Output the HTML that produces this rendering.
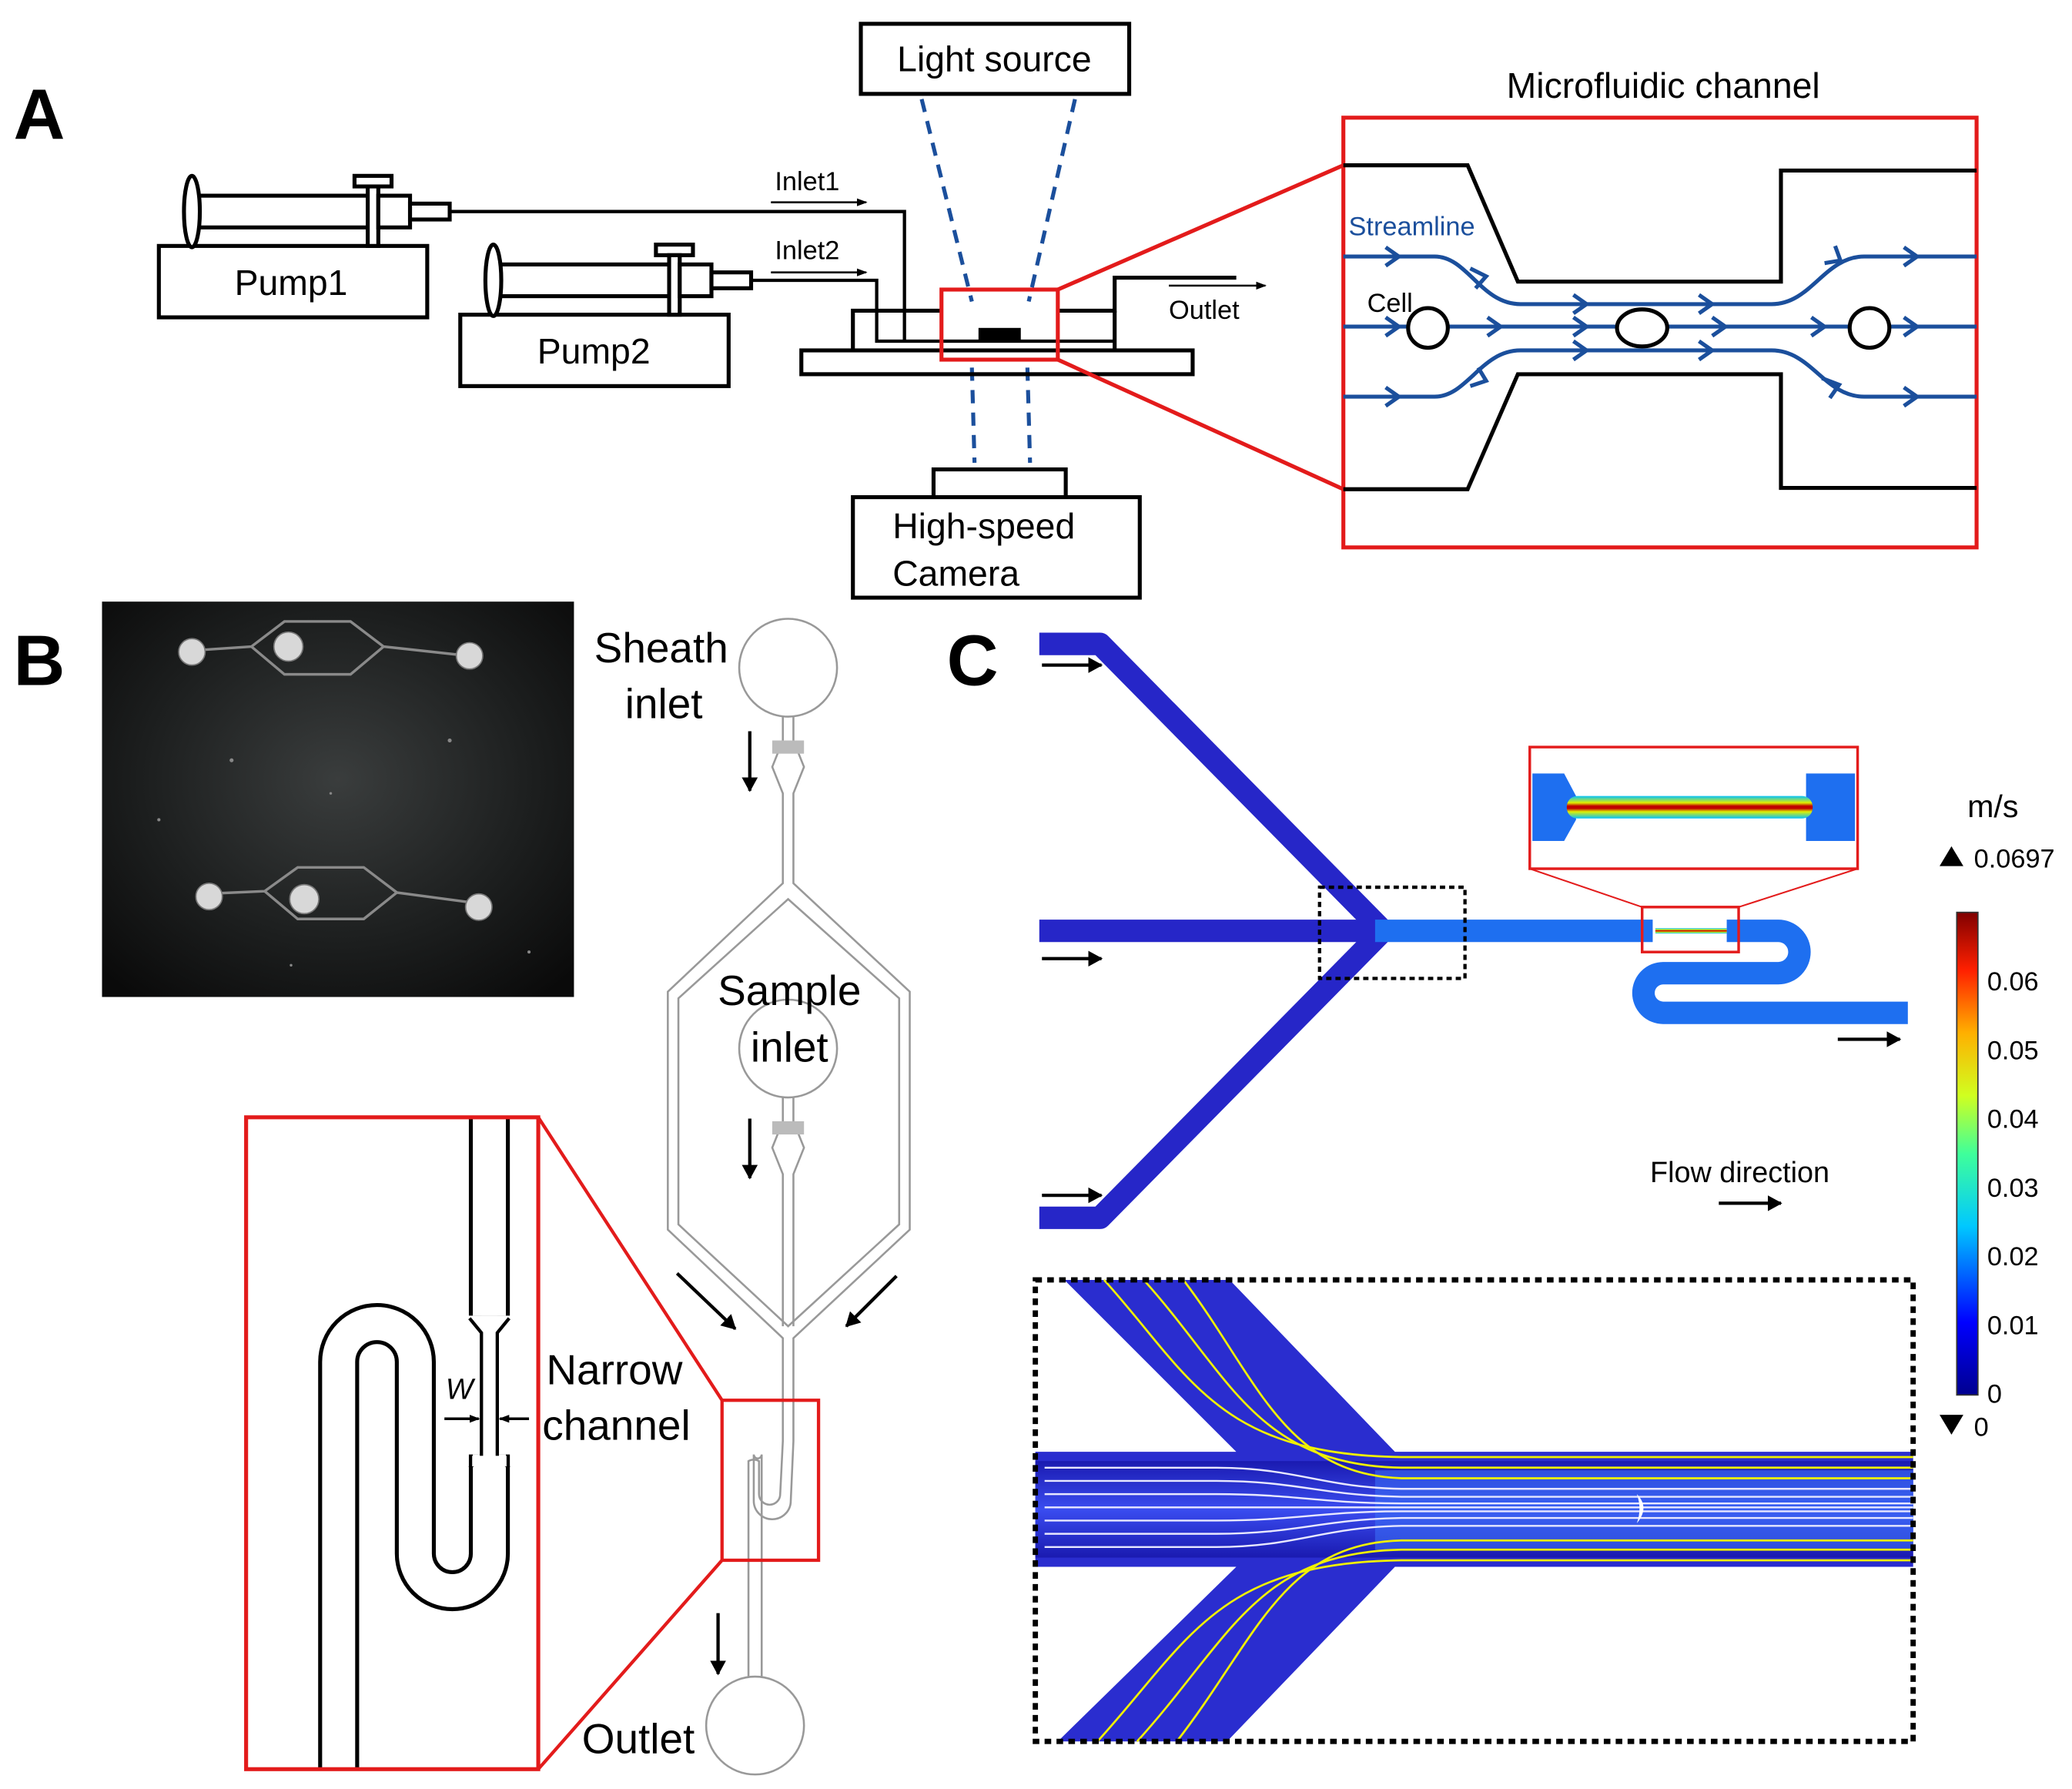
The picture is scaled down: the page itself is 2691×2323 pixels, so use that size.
<!DOCTYPE html>
<html><head><meta charset="utf-8"><style>
html,body{margin:0;padding:0;background:#fff;}
svg{display:block;}
text{font-family:"Liberation Sans",sans-serif;}
</style></head><body>
<svg width="2691" height="2323" viewBox="0 0 1567 1353" xmlns="http://www.w3.org/2000/svg">
<defs>
<marker id="ah" markerWidth="8" markerHeight="8" refX="7" refY="4" orient="auto" markerUnits="userSpaceOnUse"><path d="M0,1 L8,4 L0,7 z" fill="#000"/></marker>
<marker id="ahb" markerWidth="12" markerHeight="12" refX="10" refY="6" orient="auto" markerUnits="userSpaceOnUse"><path d="M0,0 L11,6 L0,12 z" fill="#000"/></marker>
<linearGradient id="cb" x1="0" y1="1" x2="0" y2="0">
<stop offset="0" stop-color="#00008f"/><stop offset="0.15" stop-color="#0000ff"/><stop offset="0.35" stop-color="#00c8ff"/><stop offset="0.5" stop-color="#3fff9a"/><stop offset="0.62" stop-color="#d0ff20"/><stop offset="0.75" stop-color="#ffb000"/><stop offset="0.88" stop-color="#ff2000"/><stop offset="1" stop-color="#800000"/></linearGradient>
<radialGradient id="ph" cx="0.5" cy="0.45" r="0.7"><stop offset="0" stop-color="#3a3d3d"/><stop offset="0.6" stop-color="#1c1e1e"/><stop offset="1" stop-color="#0a0a0a"/></radialGradient>
<linearGradient id="ch" x1="0" y1="0" x2="0" y2="1"><stop offset="0" stop-color="#1a1ab0"/><stop offset="0.5" stop-color="#3a4cf0"/><stop offset="1" stop-color="#1a1ab0"/></linearGradient>
<linearGradient id="red" x1="0" y1="0" x2="0" y2="1"><stop offset="0" stop-color="#00c0ff"/><stop offset="0.3" stop-color="#e0f000"/><stop offset="0.45" stop-color="#c00000"/><stop offset="0.55" stop-color="#c00000"/><stop offset="0.7" stop-color="#e0f000"/><stop offset="1" stop-color="#00c0ff"/></linearGradient>
</defs>

<text x="10" y="105" font-size="54" font-weight="bold">A</text>
<rect x="651" y="18" width="203" height="53" fill="none" stroke="#000" stroke-width="3"/>
<text x="752" y="54" font-size="27" text-anchor="middle">Light source</text>
<g stroke="#1b4f9c" stroke-width="3" stroke-dasharray="10,7">
<line x1="697" y1="75" x2="735" y2="228"/><line x1="813" y1="75" x2="778" y2="228"/>
<line x1="735" y1="278" x2="737" y2="350"/><line x1="777" y1="278" x2="779" y2="350"/>
</g>
<rect x="706" y="355" width="100" height="21" fill="#fff" stroke="#000" stroke-width="3"/>
<rect x="645" y="376" width="217" height="76" fill="#fff" stroke="#000" stroke-width="3"/>
<text x="675" y="407" font-size="27">High-speed</text>
<text x="675" y="443" font-size="27">Camera</text>
<rect x="606" y="265" width="296" height="18" fill="none" stroke="#000" stroke-width="3"/>
<polyline points="645,265 645,235 712,235" fill="none" stroke="#000" stroke-width="3"/>
<polyline points="800,235 843,235 843,210 935,210" fill="none" stroke="#000" stroke-width="3"/>
<line x1="843" y1="235" x2="843" y2="265" stroke="#000" stroke-width="3"/>
<polyline points="340,160 684,160 684,258" fill="none" stroke="#000" stroke-width="2.5"/>
<polyline points="568,212 663,212 663,258 843,258" fill="none" stroke="#000" stroke-width="2.5"/>
<rect x="740" y="248" width="32" height="10" fill="#000"/>
<rect x="712" y="219" width="88" height="53" fill="none" stroke="#e31b1b" stroke-width="3"/>
<line x1="800" y1="219" x2="1016" y2="125" stroke="#e31b1b" stroke-width="3"/>
<line x1="800" y1="272" x2="1016" y2="370" stroke="#e31b1b" stroke-width="3"/>
<text x="586" y="144" font-size="20">Inlet1</text>
<line x1="583" y1="153" x2="655" y2="153" stroke="#000" stroke-width="1.5" marker-end="url(#ah)"/>
<text x="586" y="196" font-size="20">Inlet2</text>
<line x1="583" y1="206" x2="655" y2="206" stroke="#000" stroke-width="1.5" marker-end="url(#ah)"/>
<text x="884" y="241" font-size="20">Outlet</text>
<line x1="884" y1="216" x2="957" y2="216" stroke="#000" stroke-width="1.5" marker-end="url(#ah)"/>
<g fill="#fff" stroke="#000" stroke-width="3">
<rect x="120" y="186" width="203" height="54"/>
<rect x="150" y="148" width="130" height="24"/>
<ellipse cx="145" cy="160" rx="6" ry="27"/>
<rect x="268" y="133" width="28" height="8"/>
<rect x="278" y="141" width="8" height="45"/>
<rect x="286" y="148" width="24" height="24"/>
<rect x="310" y="154" width="30" height="12"/>
</g>
<text x="220" y="223" font-size="27" text-anchor="middle">Pump1</text>
<g transform="translate(228,52)" fill="#fff" stroke="#000" stroke-width="3">
<rect x="120" y="186" width="203" height="54"/>
<rect x="150" y="148" width="130" height="24"/>
<ellipse cx="145" cy="160" rx="6" ry="27"/>
<rect x="268" y="133" width="28" height="8"/>
<rect x="278" y="141" width="8" height="45"/>
<rect x="286" y="148" width="24" height="24"/>
<rect x="310" y="154" width="30" height="12"/>
</g>
<text x="449" y="275" font-size="27" text-anchor="middle">Pump2</text>
<text x="1258" y="74" font-size="27" text-anchor="middle">Microfluidic channel</text>
<rect x="1016" y="89" width="479" height="325" fill="none" stroke="#e31b1b" stroke-width="3"/>
<polyline points="1016,125 1110,125 1148,213 1347,213 1347,129 1495,129" fill="none" stroke="#000" stroke-width="3"/>
<polyline points="1016,370 1110,370 1148,283 1347,283 1347,369 1495,369" fill="none" stroke="#000" stroke-width="3"/>
<g fill="none" stroke="#1b4f9c" stroke-width="3">
<path d="M1016,247 H1495"/>
<path d="M1016,194 H1085 C1110,194 1120,230 1150,230 H1340 C1370,230 1380,194 1410,194 H1495"/>
<path d="M1016,300 H1085 C1110,300 1120,265 1150,265 H1340 C1370,265 1380,300 1410,300 H1495"/>
</g>
<g fill="none" stroke="#1b4f9c" stroke-width="3">
<path d="M1048,187 l10,7 l-10,7"/><path d="M1048,240 l10,7 l-10,7"/><path d="M1048,293 l10,7 l-10,7"/>
<path d="M1112,203 l12,6 l-8,9"/><path d="M1112,292 l12,-4 l-6,-10"/>
<path d="M1125,240 l10,7 l-10,7"/><path d="M1190,240 l10,7 l-10,7"/><path d="M1295,240 l10,7 l-10,7"/>
<path d="M1190,223 l10,7 l-10,7"/><path d="M1190,258 l10,7 l-10,7"/><path d="M1285,223 l10,7 l-10,7"/><path d="M1285,258 l10,7 l-10,7"/>
<path d="M1380,199 l12,-2 l-4,-11"/><path d="M1378,286 l13,5 l-7,10"/>
<path d="M1370,240 l10,7 l-10,7"/><path d="M1440,187 l10,7 l-10,7"/><path d="M1440,240 l10,7 l-10,7"/><path d="M1440,293 l10,7 l-10,7"/>
</g>
<circle cx="1080" cy="248" r="15" fill="#fff" stroke="#000" stroke-width="3"/>
<ellipse cx="1242" cy="248" rx="19" ry="14" fill="#fff" stroke="#000" stroke-width="3"/>
<circle cx="1414" cy="248" r="15" fill="#fff" stroke="#000" stroke-width="3"/>
<text x="1020" y="178" font-size="20" fill="#1b4f9c">Streamline</text>
<text x="1034" y="236" font-size="20">Cell</text>

<text x="10" y="518" font-size="54" font-weight="bold">B</text>
<rect x="77" y="455" width="357" height="299" fill="url(#ph)"/>
<g fill="#888"><circle cx="175" cy="575" r="1.5"/><circle cx="340" cy="560" r="1.5"/><circle cx="250" cy="600" r="1"/><circle cx="120" cy="620" r="1.2"/><circle cx="400" cy="720" r="1.2"/><circle cx="220" cy="730" r="1"/></g>
<g stroke="#8a8a8a" stroke-width="2" fill="none">
<polyline points="145,492 190,489 215,470 265,470 290,489 345,495"/>
<polyline points="190,489 215,510 265,510 290,489"/>
<polyline points="155,676 200,674 225,656 275,656 300,675 360,683"/>
<polyline points="200,674 225,695 275,695 300,675"/>
</g>
<g fill="#d8d8d8" stroke="#777">
<circle cx="145" cy="493" r="10"/><circle cx="218" cy="489" r="11"/><circle cx="355" cy="496" r="10"/>
<circle cx="158" cy="678" r="10"/><circle cx="230" cy="680" r="11"/><circle cx="362" cy="686" r="10"/>
</g>
<text x="500" y="501" font-size="32" text-anchor="middle">Sheath</text>
<text x="502" y="543" font-size="32" text-anchor="middle">inlet</text>
<g fill="none" stroke="#999" stroke-width="1.5">
<circle cx="596" cy="505" r="37"/>
<circle cx="596" cy="793" r="37"/>
<circle cx="571" cy="1305" r="37"/>
<path d="M592,542 V560 L584,580 L592,600 V668 L505,750 V930 L592,1012 V1090"/>
<path d="M600,542 V560 L608,580 L600,600 V668 L688,750 V930 L600,1012 V1090"/>
<path d="M596,680 L513,755 V926 L596,1003 L680,926 V755 Z"/>
<path d="M592,830 V848 L584,868 L592,888 V1003"/><path d="M600,830 V848 L608,868 L600,888 V1003"/>
<path d="M592,1090 L590,1130 A8 8 0 0 1 574,1130 V1105 A8 8 0 0 0 566,1105 V1268"/>
<path d="M600,1090 L598,1135 A14 14 0 0 1 570,1135 V1100 A2 2 0 0 0 576,1100 V1268"/>
</g>
<rect x="584" y="560" width="24" height="10" fill="#bbb"/>
<rect x="584" y="848" width="24" height="10" fill="#bbb"/>
<text x="597" y="760" font-size="32" text-anchor="middle">Sample</text>
<text x="597" y="803" font-size="32" text-anchor="middle">inlet</text>
<line x1="567" y1="553" x2="567" y2="598" stroke="#000" stroke-width="2.5" marker-end="url(#ahb)"/>
<line x1="567" y1="846" x2="567" y2="891" stroke="#000" stroke-width="2.5" marker-end="url(#ahb)"/>
<line x1="512" y1="963" x2="556" y2="1005" stroke="#000" stroke-width="2.5" marker-end="url(#ahb)"/>
<line x1="678" y1="965" x2="640" y2="1003" stroke="#000" stroke-width="2.5" marker-end="url(#ahb)"/>
<line x1="543" y1="1220" x2="543" y2="1266" stroke="#000" stroke-width="2.5" marker-end="url(#ahb)"/>
<text x="440" y="1326" font-size="32">Outlet</text>
<rect x="546" y="1059" width="73" height="121" fill="none" stroke="#e31b1b" stroke-width="2.5"/>
<line x1="407" y1="845" x2="546" y2="1059" stroke="#e31b1b" stroke-width="2.5"/>
<line x1="407" y1="1338" x2="546" y2="1180" stroke="#e31b1b" stroke-width="2.5"/>
<path d="M256,1338 V1030 A29 29 0 0 1 314,1030 V1175 A28 28 0 0 0 370,1175 V1100" fill="none" stroke="#000" stroke-width="31"/>
<path d="M256,1340 V1030 A29 29 0 0 1 314,1030 V1175 A28 28 0 0 0 370,1175 V1100" fill="none" stroke="#fff" stroke-width="25"/>
<path d="M370,846 V995" stroke="#000" stroke-width="31"/>
<path d="M370,844 V995" stroke="#fff" stroke-width="25"/>
<rect x="364" y="995" width="12" height="108" fill="#fff"/>
<path d="M355,997 L364,1008 V1103 L355,1110 M385,997 L376,1008 V1103 L385,1110" fill="none" stroke="#000" stroke-width="2.5"/>
<rect x="357" y="1101" width="26" height="8" fill="#fff"/>
<rect x="186" y="845" width="221" height="493" fill="none" stroke="#e31b1b" stroke-width="3"/>
<text x="337" y="1058" font-size="22" font-style="italic">W</text>
<line x1="336" y1="1073" x2="362" y2="1073" stroke="#000" stroke-width="2" marker-end="url(#ah)"/>
<line x1="400" y1="1073" x2="378" y2="1073" stroke="#000" stroke-width="2" marker-end="url(#ah)"/>
<text x="413" y="1047" font-size="32">Narrow</text>
<text x="410" y="1089" font-size="32">channel</text>

<text x="716" y="518" font-size="54" font-weight="bold">C</text>
<g fill="none" stroke-linejoin="round">
<path d="M786,487 H832 L1045,703" stroke="#2626c8" stroke-width="17"/>
<path d="M786,921 H832 L1045,705" stroke="#2626c8" stroke-width="17"/>
<path d="M786,704 H1045" stroke="#2626c8" stroke-width="17"/>
<path d="M1040,704 H1250" stroke="#1e6ff0" stroke-width="17"/>
<path d="M1306,704 H1345 A16 16 0 0 1 1345,736 H1258 A15 15 0 0 0 1258,766 H1443" stroke="#1e6ff0" stroke-width="17"/>
</g>
<rect x="1252" y="702" width="54" height="4" fill="url(#red)"/>
<rect x="998" y="671" width="110" height="69" fill="none" stroke="#000" stroke-width="2.5" stroke-dasharray="4,3"/>
<rect x="1242" y="686" width="73" height="34" fill="none" stroke="#e31b1b" stroke-width="2"/>
<line x1="1157" y1="657" x2="1242" y2="686" stroke="#e31b1b" stroke-width="1.2"/>
<line x1="1405" y1="657" x2="1315" y2="686" stroke="#e31b1b" stroke-width="1.2"/>
<rect x="1157" y="565" width="248" height="92" fill="#fff" stroke="#e31b1b" stroke-width="2"/>
<path d="M1159,585 H1183 L1192,602 V620 L1183,636 H1159 Z" fill="#1e6ff0"/>
<path d="M1403,585 H1366 V636 H1403 Z" fill="#1e6ff0"/>
<rect x="1185" y="602" width="186" height="17" rx="8" fill="url(#red)"/>
<line x1="788" y1="503" x2="833" y2="503" stroke="#000" stroke-width="2.5" marker-end="url(#ahb)"/>
<line x1="788" y1="725" x2="833" y2="725" stroke="#000" stroke-width="2.5" marker-end="url(#ahb)"/>
<line x1="788" y1="904" x2="833" y2="904" stroke="#000" stroke-width="2.5" marker-end="url(#ahb)"/>
<line x1="1390" y1="786" x2="1437" y2="786" stroke="#000" stroke-width="2.5" marker-end="url(#ahb)"/>
<text x="1248" y="894" font-size="22">Flow direction</text>
<line x1="1300" y1="910" x2="1347" y2="910" stroke="#000" stroke-width="2.5" marker-end="url(#ahb)"/>
<text x="1488" y="618" font-size="24">m/s</text>
<path d="M1467,655 l9,-15 l9,15 z" fill="#000"/>
<text x="1493" y="656" font-size="20">0.0697</text>
<rect x="1480" y="690" width="16" height="365" fill="url(#cb)" stroke="#333" stroke-width="1"/>
<g font-size="20">
<text x="1503" y="749">0.06</text><text x="1503" y="801">0.05</text><text x="1503" y="853">0.04</text>
<text x="1503" y="905">0.03</text><text x="1503" y="957">0.02</text><text x="1503" y="1009">0.01</text><text x="1503" y="1061">0</text>
</g>
<path d="M1467,1070 l9,15 l9,-15 z" fill="#000"/>
<text x="1493" y="1086" font-size="20">0</text>
<polygon points="805,968 930,968 1055,1098 1447,1098 1447,1185 1055,1185 928,1317 800,1317 935,1185 783,1185 783,1098 935,1098" fill="#2a2dcf"/>
<rect x="783" y="1105" width="664" height="73" fill="url(#ch)"/>
<rect x="1040" y="1112" width="407" height="60" fill="#3a6cf5" opacity="0.6"/>
<g fill="none" stroke="#f0f000" stroke-width="1.6">
<path d="M835,968 C900,1040 920,1100 1060,1102 H1447"/>
<path d="M865,968 C930,1040 950,1108 1060,1110 H1447"/>
<path d="M895,968 C950,1040 970,1115 1060,1118 H1447"/>
<path d="M830,1317 C900,1240 920,1182 1060,1180 H1447"/>
<path d="M860,1317 C930,1240 950,1174 1060,1172 H1447"/>
<path d="M890,1317 C950,1240 970,1167 1060,1165 H1447"/>
</g>
<g fill="none" stroke="#e8e8ff" stroke-width="1.4">
<path d="M790,1110 H920 C980,1110 1000,1125 1060,1126 H1447"/>
<path d="M790,1120 H920 C980,1120 1000,1131 1060,1132 H1447"/>
<path d="M790,1130 H920 C980,1130 1000,1137 1060,1137 H1447"/>
<path d="M790,1140 H1447"/>
<path d="M790,1150 H920 C980,1150 1000,1143 1060,1143 H1447"/>
<path d="M790,1160 H920 C980,1160 1000,1149 1060,1148 H1447"/>
<path d="M790,1170 H920 C980,1170 1000,1155 1060,1154 H1447"/>
</g>
<path d="M1238,1130 q10,10 0,22 q4,-11 0,-22 z" fill="#fff"/>
<rect x="783" y="968" width="664" height="349" fill="none" stroke="#000" stroke-width="4" stroke-dasharray="5,4"/>
</svg>
</body></html>
